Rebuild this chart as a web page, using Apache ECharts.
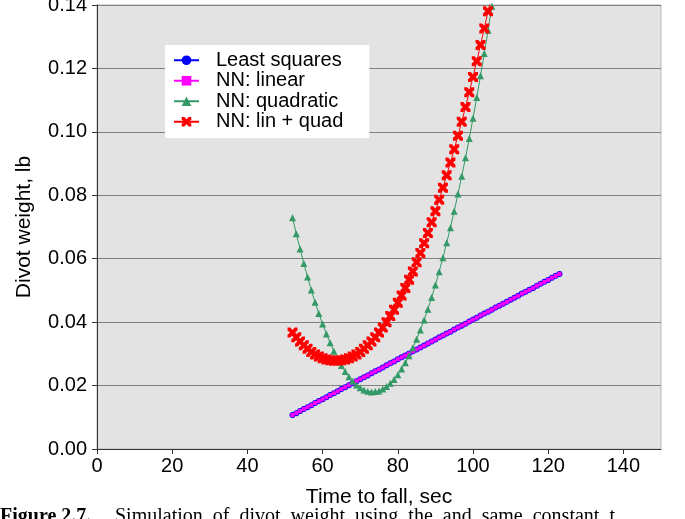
<!DOCTYPE html>
<html>
<head>
<meta charset="utf-8">
<script src="https://cdn.jsdelivr.net/npm/echarts@6/dist/echarts.min.js"></script>
<style>
html,body{margin:0;padding:0;background:#ffffff;}
#chart{width:685px;height:519px;}
</style>
</head>
<body>
<div id="chart"></div>
<script>
// Time to fall (sec)
var timeLine = [52,53,54,55,56,57,58,59,60,61,62,63,64,65,66,67,68,69,70,71,72,73,74,75,76,77,78,79,80,81,82,83,84,85,86,87,88,89,90,91,92,93,94,95,96,97,98,99,100,101,102,103,104,105,106,107,108,109,110,111,112,113,114,115,116,117,118,119,120,121,122,123];
var timeCurve = [52,53,54,55,56,57,58,59,60,61,62,63,64,65,66,67,68,69,70,71,72,73,74,75,76,77,78,79,80,81,82,83,84,85,86,87,88,89,90,91,92,93,94,95,96,97,98,99,100,101,102,103,104,105];

// Divot weight (lb)
var leastSquares = [0.0107,0.0113,0.0120,0.0126,0.0132,0.0138,0.0145,0.0151,0.0157,0.0163,0.0170,0.0176,0.0182,0.0189,0.0195,0.0201,0.0207,0.0214,0.0220,0.0226,0.0232,0.0239,0.0245,0.0251,0.0257,0.0264,0.0270,0.0276,0.0283,0.0289,0.0295,0.0301,0.0308,0.0314,0.0320,0.0326,0.0333,0.0339,0.0345,0.0352,0.0358,0.0364,0.0370,0.0377,0.0383,0.0389,0.0395,0.0402,0.0408,0.0414,0.0421,0.0427,0.0433,0.0439,0.0446,0.0452,0.0458,0.0464,0.0471,0.0477,0.0483,0.0490,0.0496,0.0502,0.0508,0.0515,0.0521,0.0527,0.0533,0.0540,0.0546,0.0552];
var nnLinear = [0.0107,0.0113,0.0120,0.0126,0.0132,0.0138,0.0145,0.0151,0.0157,0.0163,0.0170,0.0176,0.0182,0.0189,0.0195,0.0201,0.0207,0.0214,0.0220,0.0226,0.0232,0.0239,0.0245,0.0251,0.0257,0.0264,0.0270,0.0276,0.0283,0.0289,0.0295,0.0301,0.0308,0.0314,0.0320,0.0326,0.0333,0.0339,0.0345,0.0352,0.0358,0.0364,0.0370,0.0377,0.0383,0.0389,0.0395,0.0402,0.0408,0.0414,0.0421,0.0427,0.0433,0.0439,0.0446,0.0452,0.0458,0.0464,0.0471,0.0477,0.0483,0.0490,0.0496,0.0502,0.0508,0.0515,0.0521,0.0527,0.0533,0.0540,0.0546,0.0552];
var nnQuadratic = [0.0729,0.0679,0.0631,0.0585,0.0542,0.0501,0.0463,0.0427,0.0394,0.0363,0.0335,0.0308,0.0285,0.0263,0.0244,0.0228,0.0214,0.0202,0.0193,0.0186,0.0182,0.0180,0.0181,0.0183,0.0189,0.0197,0.0207,0.0219,0.0234,0.0252,0.0272,0.0294,0.0319,0.0346,0.0375,0.0407,0.0441,0.0478,0.0517,0.0559,0.0603,0.0650,0.0698,0.0750,0.0804,0.0860,0.0918,0.0979,0.1043,0.1108,0.1177,0.1247,0.1320,0.1396];
var nnLinQuad = [0.0367,0.0352,0.0339,0.0327,0.0316,0.0306,0.0298,0.0292,0.0286,0.0282,0.0280,0.0278,0.0278,0.0280,0.0282,0.0286,0.0292,0.0298,0.0306,0.0316,0.0327,0.0339,0.0352,0.0367,0.0383,0.0400,0.0419,0.0439,0.0461,0.0484,0.0508,0.0534,0.0560,0.0589,0.0618,0.0649,0.0681,0.0715,0.0750,0.0786,0.0824,0.0863,0.0903,0.0945,0.0988,0.1032,0.1078,0.1125,0.1173,0.1223,0.1274,0.1326,0.1380,0.1435];

var seriesNames = ['Least squares','NN: linear','NN: quadratic','NN: lin + quad'];

function pairs(xs, ys){ return xs.map(function(x,i){ return [x, ys[i]]; }); }

var xMark = 'path://M0,0 L2.8,0 L5,2.4 L7.2,0 L10,0 L10,2.8 L7.6,5 L10,7.2 L10,10 L7.2,10 L5,7.6 L2.8,10 L0,10 L0,7.2 L2.4,5 L0,2.8 Z';
var font = 'Liberation Sans, Arial, sans-serif';

var chart = echarts.init(document.getElementById('chart'), null, {renderer:'canvas'});
chart.setOption({
  animation: false,
  backgroundColor: '#ffffff',
  textStyle: {fontFamily: font},
  grid: {left: 97, right: 24, top: 5, bottom: 70, show: true, backgroundColor: '#e3e3e3', borderColor: '#b8b8b8', borderWidth: 1, containLabel: false, outerBoundsMode: 'none'},
  legend: {
    orient: 'vertical', left: 165, top: 45,
    backgroundColor: '#ffffff', padding: [5, 26, 6, 8], itemGap: 0,
    itemWidth: 25, itemHeight: 12,
    textStyle: {fontSize: 20, lineHeight: 20.5, color: '#000', fontFamily: font, padding: [0,0,0,12]},
    data: seriesNames
  },
  xAxis: {
    type: 'value', min: 0, max: 150, interval: 20,
    name: 'Time to fall, sec', nameLocation: 'middle', nameGap: 38,
    nameTextStyle: {fontSize: 21, color: '#000', fontFamily: font},
    axisLine: {onZero: false, lineStyle: {color: '#333', width: 1}},
    axisTick: {show: true, inside: false, length: 5, lineStyle: {color: '#333'}},
    axisLabel: {fontSize: 20, color: '#000', margin: 7, showMaxLabel: false, fontFamily: font},
    splitLine: {show: false}
  },
  yAxis: {
    type: 'value', min: 0, max: 0.14, interval: 0.02,
    name: 'Divot weight, lb', nameLocation: 'middle', nameGap: 62, nameRotate: 90,
    nameTextStyle: {fontSize: 21, color: '#000', fontFamily: font},
    axisLine: {show: true, onZero: false, lineStyle: {color: '#333', width: 1}},
    axisTick: {show: true, inside: false, length: 5, lineStyle: {color: '#333'}},
    axisLabel: {fontSize: 20, color: '#000', margin: 10, fontFamily: font, formatter: function(v){ return v.toFixed(2); }},
    splitLine: {show: true, lineStyle: {color: '#808080', width: 1}}
  },
  series: [
    {name: seriesNames[0], type: 'line', data: pairs(timeLine, leastSquares), symbol: 'circle', symbolSize: 6,
     itemStyle: {color: '#0000ff'}, lineStyle: {color: '#0000ff', width: 1}, z: 2},
    {name: seriesNames[1], type: 'line', data: pairs(timeLine, nnLinear), symbol: 'rect', symbolSize: 4,
     itemStyle: {color: '#ff00ff'}, lineStyle: {color: '#ff00ff', width: 1}, z: 3},
    {name: seriesNames[2], type: 'line', data: pairs(timeCurve, nnQuadratic), symbol: 'triangle', symbolSize: 7,
     itemStyle: {color: '#339966'}, lineStyle: {color: '#339966', width: 1}, z: 4, clip: true},
    {name: seriesNames[3], type: 'line', data: pairs(timeCurve, nnLinQuad), symbol: xMark, symbolSize: 10,
     itemStyle: {color: '#ff0000'}, lineStyle: {color: '#ff0000', width: 1}, z: 5, clip: true}
  ],
  graphic: [
    {type: 'text', left: 0, top: 507, style: {text: 'Figure 2.7.', font: 'bold 20px "Liberation Serif", "Times New Roman", serif', fill: '#000'}},
    {type: 'text', left: 115, top: 507, style: {text: 'Simulation  of  divot  weight  using  the  and  same  constant  t', font: '20px "Liberation Serif", "Times New Roman", serif', fill: '#000'}}
  ]
});
</script>
</body>
</html>
